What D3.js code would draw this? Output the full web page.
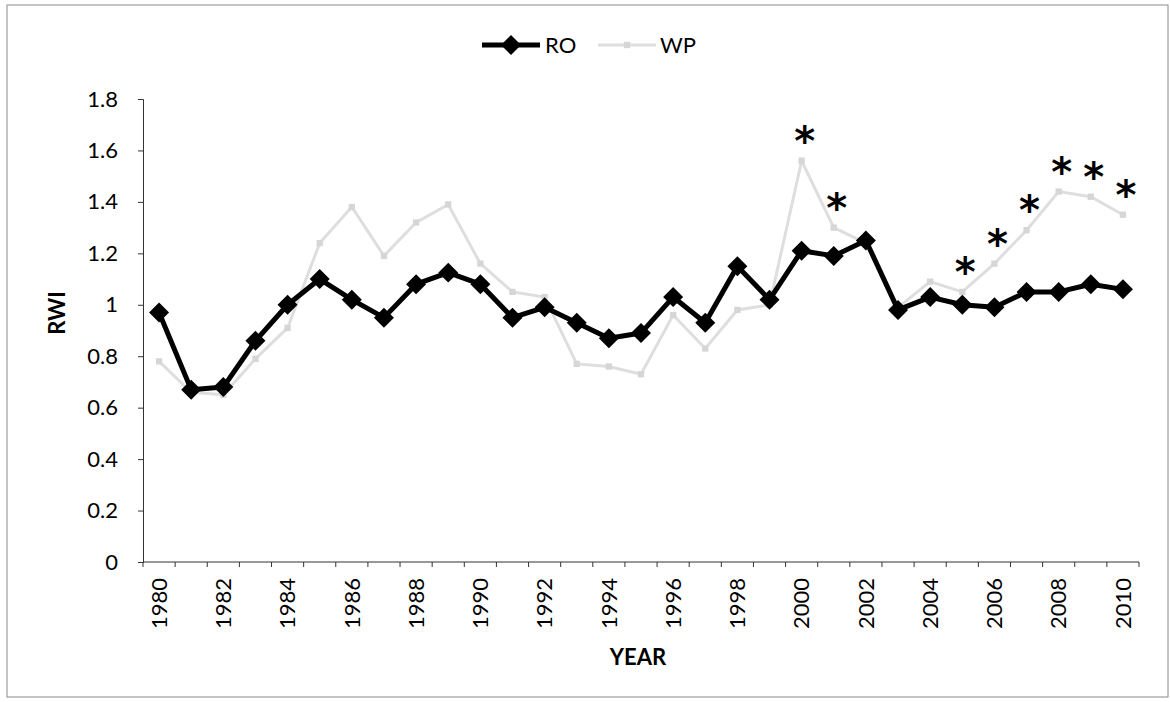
<!DOCTYPE html>
<html>
<head>
<meta charset="utf-8">
<script src="https://cdn.jsdelivr.net/npm/d3@7"></script>
<style>
  html, body { margin: 0; padding: 0; background: #fff; }
  svg { display: block; font-family: Lato, "Noto Sans", sans-serif; }
</style>
</head>
<body>
<svg id="chart" width="1170" height="702"></svg>
<script>
// ---- data ----
const years = [1980,1981,1982,1983,1984,1985,1986,1987,1988,1989,1990,1991,1992,1993,1994,1995,1996,1997,1998,1999,2000,2001,2002,2003,2004,2005,2006,2007,2008,2009,2010];
const roValues = [0.97,0.67,0.68,0.86,1.00,1.10,1.02,0.95,1.08,1.125,1.08,0.95,0.99,0.93,0.87,0.89,1.03,0.93,1.15,1.02,1.21,1.19,1.25,0.98,1.03,1.00,0.99,1.05,1.05,1.08,1.06];
const wpValues = [0.78,0.66,0.65,0.79,0.91,1.24,1.38,1.19,1.32,1.39,1.16,1.05,1.03,0.77,0.76,0.73,0.96,0.83,0.98,1.00,1.56,1.30,1.24,0.99,1.09,1.05,1.16,1.29,1.44,1.42,1.35];
const starYears = [2000,2001,2005,2006,2007,2008,2009,2010];
const yTicks = [0,0.2,0.4,0.6,0.8,1,1.2,1.4,1.6,1.8];
const xLabelYears = years.filter((y,i) => i % 2 === 0);
const seriesNames = ["RO","WP"];

// ---- layout ----
const svg = d3.select("#chart");
const plot = {left: 143, right: 1139, top: 99, bottom: 562};

svg.append("rect").attr("x",7).attr("y",5).attr("width",1161).attr("height",692)
  .attr("fill","none").attr("stroke","#8a8a8a").attr("stroke-width",1);

const x = d3.scaleBand().domain(years).range([plot.left, plot.right]).paddingInner(0).paddingOuter(0);
const xc = d => x(d) + x.bandwidth()/2;
const y = d3.scaleLinear().domain([0,1.8]).range([plot.bottom, plot.top]);

// y axis
const yAxis = d3.axisLeft(y).tickValues(yTicks).tickSize(5).tickPadding(20)
  .tickFormat(d => d3.format("")(+d.toFixed(1)));
const gy = svg.append("g").attr("transform",`translate(${plot.left},0)`).call(yAxis);
gy.select(".domain").attr("stroke","#333");
gy.selectAll(".tick line").attr("stroke","#333");
gy.selectAll(".tick text").attr("font-size",22).attr("fill","#000").attr("font-family","Lato");

// x axis: ticks at category boundaries
const gx = svg.append("g").attr("transform",`translate(0,${plot.bottom})`);
gx.append("line").attr("x1",plot.left).attr("x2",plot.right).attr("stroke","#333");
const boundaries = years.map(d => x(d)).concat([plot.right]);
gx.selectAll("line.tk").data(boundaries).join("line").attr("class","tk")
  .attr("x1",d=>d).attr("x2",d=>d).attr("y1",0).attr("y2",5).attr("stroke","#333");
gx.selectAll("text").data(xLabelYears).join("text")
  .attr("transform", d => `translate(${xc(d)},16) rotate(-90)`)
  .attr("text-anchor","end").attr("dy","0.35em")
  .attr("font-size",22).attr("fill","#000").text(d => d);

// axis titles
svg.append("text").attr("x",638).attr("y",665).attr("text-anchor","middle")
  .attr("font-size",22).attr("font-weight","bold").text("YEAR");
svg.append("text").attr("transform","translate(57,313) rotate(-90)").attr("text-anchor","middle")
  .attr("dy","0.35em").attr("font-size",22).attr("font-weight","bold").text("RWI");

// WP line (light grey)
const line = d3.line().x((d,i) => xc(years[i])).y(d => y(d));
svg.append("path").datum(wpValues).attr("d",line).attr("fill","none")
  .attr("stroke","#dedede").attr("stroke-width",3);
svg.selectAll("path.wpm").data(wpValues).join("path").attr("class","wpm")
  .attr("d", d3.symbol(d3.symbolSquare, 40))
  .attr("transform",(d,i)=>`translate(${xc(years[i])},${y(d)})`)
  .attr("fill","#d6d6d6");

// RO line
svg.append("path").datum(roValues).attr("d",line).attr("fill","none")
  .attr("stroke","#000").attr("stroke-width",5).attr("stroke-linejoin","round");
const diamond = d3.symbol(d3.symbolSquare, 200);
svg.selectAll("path.rom").data(roValues).join("path").attr("class","rom")
  .attr("d", diamond)
  .attr("transform",(d,i)=>`translate(${xc(years[i])},${y(d)}) rotate(45)`)
  .attr("fill","#000");

// significance asterisks
svg.selectAll("text.star").data(starYears).join("text").attr("class","star")
  .attr("x", d => xc(d) + 3)
  .attr("y", d => y(wpValues[years.indexOf(d)]) - 24 + 18)
  .attr("text-anchor","middle").attr("font-size",40).attr("font-weight","bold")
  .attr("font-family","DejaVu Sans").attr("fill","#000").text("*");

// legend
const lg = svg.append("g");
lg.append("line").attr("x1",482).attr("x2",540).attr("y1",45).attr("y2",45)
  .attr("stroke","#000").attr("stroke-width",5);
lg.append("path").attr("d",diamond).attr("transform","translate(511,45) rotate(45)").attr("fill","#000");
lg.append("text").attr("x",545).attr("y",45).attr("dy","0.35em").attr("font-size",22).text(seriesNames[0]);
lg.append("line").attr("x1",598).attr("x2",656).attr("y1",45).attr("y2",45)
  .attr("stroke","#dedede").attr("stroke-width",3);
lg.append("path").attr("d",d3.symbol(d3.symbolSquare,40)).attr("transform","translate(627,45)").attr("fill","#d6d6d6");
lg.append("text").attr("x",660).attr("y",45).attr("dy","0.35em").attr("font-size",22).text(seriesNames[1]);
</script>
</body>
</html>
